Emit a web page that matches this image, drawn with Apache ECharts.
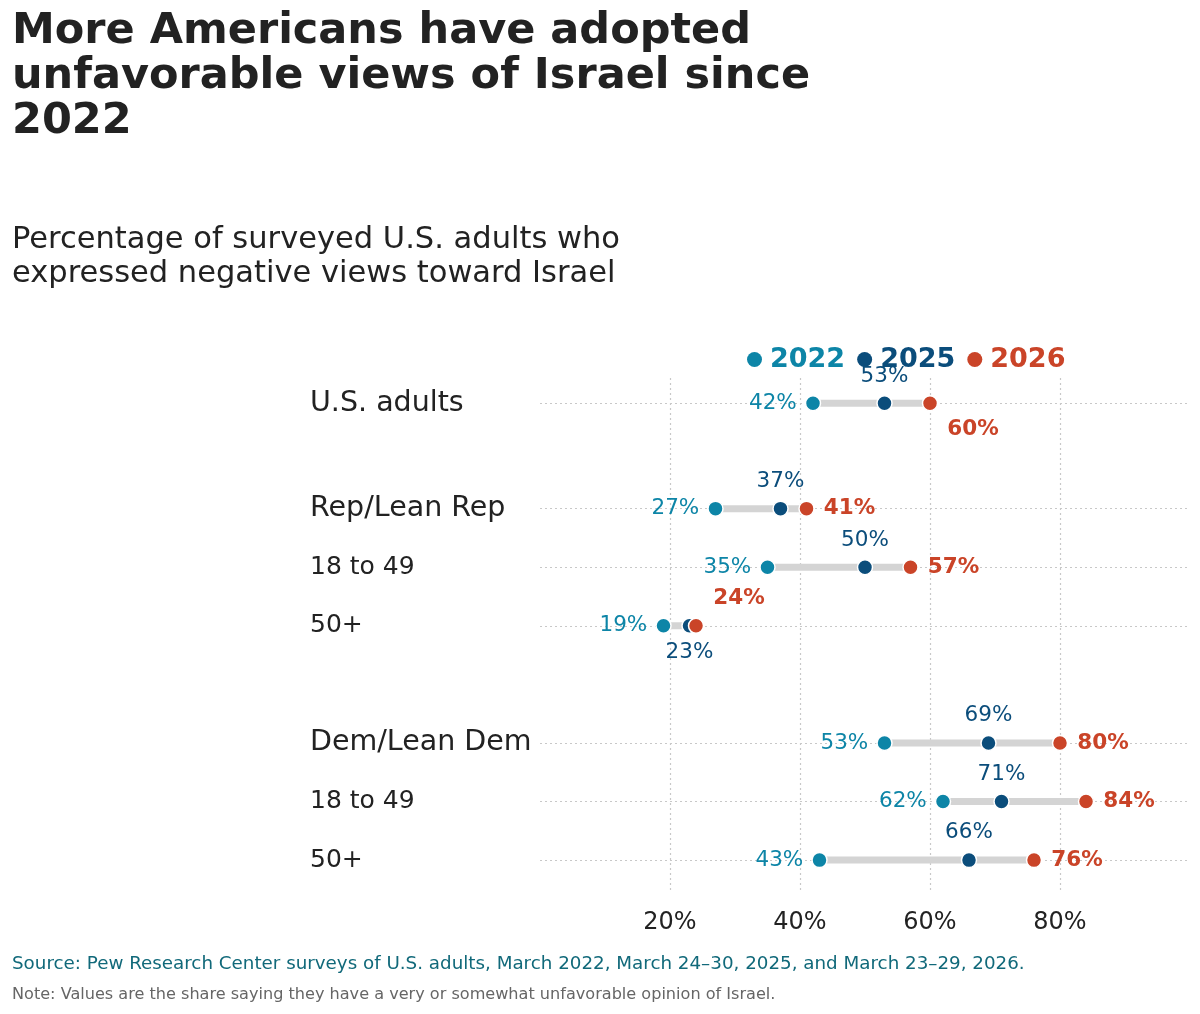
<!DOCTYPE html>
<html>
<head>
<meta charset="utf-8">
<script src="https://cdn.jsdelivr.net/npm/echarts@6/dist/echarts.min.js"></script>
<style>
  html, body { margin: 0; padding: 0; background: #fff; }
  #container { width: 1200px; height: 1014px; }
</style>
</head>
<body>
<div id="container"></div>
<script>
// data
var rowLabels = ['U.S. adults', 'Rep/Lean Rep', '18 to 49', '50+', 'Dem/Lean Dem', '18 to 49', '50+'];
var rowIsHeader = [true, true, false, false, true, false, false];
var years = ['2022', '2025', '2026'];
var v2022 = [42, 27, 35, 19, 53, 62, 43];
var v2025 = [53, 37, 50, 23, 69, 71, 66];
var v2026 = [60, 41, 57, 24, 80, 84, 76];
var xTicks = [20, 40, 60, 80];

var FONT = 'DejaVu Sans';
var C22 = '#0D85A7', C25 = '#0B4D7B', C26 = '#CA4428';

// row positions on the y axis: one unit per row, with extra space before each group header
var extraGap = [0, 0.8, 0.8, 0.8, 1.8, 1.8, 1.8];
var rowPos = rowLabels.map(function (d, i) { return i + extraGap[i]; });

function pts(vals) {
    return vals.map(function (v, i) { return [v, rowPos[i]]; });
}

var d22 = pts(v2022);
var d25 = pts(v2025);
var d26 = pts(v2026);

// special label spots for overlapping rows
d25[3] = { value: d25[3], label: { position: 'bottom', distance: 7 } };
d26[0] = { value: d26[0], label: { position: 'right', offset: [0, 26] } };
d26[3] = { value: d26[3], label: { position: 'right', offset: [0, -27] } };

var charts = echarts.init(document.getElementById('container'));
var option = {
    backgroundColor: '#fff',
    animation: false,
    textStyle: { fontFamily: FONT },
    title: [{
        text: 'More Americans have adopted\nunfavorable views of Israel since\n2022',
        left: 7, top: 4,
        textStyle: { fontFamily: FONT, fontSize: 43, fontWeight: 'bold', lineHeight: 45, color: '#222' }
    }, {
        text: 'Percentage of surveyed U.S. adults who\nexpressed negative views toward Israel',
        left: 7, top: 218,
        textStyle: { fontFamily: FONT, fontSize: 30.5, fontWeight: 'normal', lineHeight: 34, color: '#222' }
    }, {
        text: 'Source: Pew Research Center surveys of U.S. adults, March 2022, March 24\u201330, 2025, and March 23\u201329, 2026.',
        left: 7, top: 950,
        textStyle: { fontFamily: FONT, fontSize: 18.3, fontWeight: 'normal', color: '#11697A' }
    }, {
        text: 'Note: Values are the share saying they have a very or somewhat unfavorable opinion of Israel.',
        left: 7, top: 982,
        textStyle: { fontFamily: FONT, fontSize: 16.1, fontWeight: 'normal', color: '#666' }
    }],
    legend: {
        left: 742, top: 341,
        icon: 'circle',
        itemWidth: 15, itemHeight: 15, itemGap: 12,
        selectedMode: false,
        itemStyle: { opacity: 1, borderWidth: 0 },
        textStyle: { fontFamily: FONT, fontSize: 27, fontWeight: 'bold', padding: [0, 0, 0, 3] },
        data: [
            { name: '2022', textStyle: { color: C22 } },
            { name: '2025', textStyle: { color: C25 } },
            { name: '2026', textStyle: { color: C26 } }
        ]
    },
    grid: { left: 540, right: 10, top: 378, bottom: 124, containLabel: false },
    xAxis: {
        type: 'value', min: 0, max: 100, interval: 20,
        axisLine: { show: false }, axisTick: { show: false }, splitLine: { show: false },
        axisLabel: {
            fontFamily: FONT, fontSize: 24, color: '#222', margin: 21,
            customValues: xTicks,
            formatter: function (v) { return v + '%'; }
        }
    },
    yAxis: {
        type: 'value', inverse: true,
        min: -0.43, max: rowPos[rowPos.length - 1] + 0.51,
        axisLine: { show: false }, axisTick: { show: false }, splitLine: { show: false },
        axisLabel: {
            customValues: rowPos,
            align: 'left', margin: 230,
            formatter: function (v) {
                var i = rowPos.indexOf(v);
                if (i < 0) return '';
                return rowIsHeader[i] ? '{h|' + rowLabels[i] + '}' : '{s|' + rowLabels[i] + '}';
            },
            rich: {
                h: { fontFamily: FONT, fontSize: 28.5, color: '#222' },
                s: { fontFamily: FONT, fontSize: 25, color: '#222' }
            }
        }
    },
    series: [{
        name: 'guides',
        type: 'line',
        data: [],
        silent: true,
        z: 0,
        markLine: {
            silent: true, symbol: 'none', label: { show: false }, z: 0,
            lineStyle: { type: [2, 3], color: '#c8c8c8', width: 1.2 },
            data: rowPos.map(function (p) { return { yAxis: p }; })
                .concat(xTicks.map(function (t) { return { xAxis: t }; }))
        }
    }, {
        name: 'range',
        type: 'custom',
        silent: true,
        data: rowPos.map(function (p, i) {
            return [Math.min(v2022[i], v2025[i], v2026[i]), Math.max(v2022[i], v2025[i], v2026[i]), p];
        }),
        encode: { x: [0, 1], y: 2 },
        renderItem: function (params, api) {
            var a = api.coord([api.value(0), api.value(2)]);
            var b = api.coord([api.value(1), api.value(2)]);
            return {
                type: 'line',
                shape: { x1: a[0], y1: a[1], x2: b[0], y2: b[1] },
                style: { stroke: '#d4d4d4', lineWidth: 7 }
            };
        },
        z: 2
    }, {
        name: '2022',
        type: 'scatter',
        symbolSize: 15,
        itemStyle: { color: C22, opacity: 1, borderColor: '#fff', borderWidth: 1.5 },
        label: {
            show: true, position: 'left', distance: 8,
            fontFamily: FONT, fontSize: 21.5, color: C22,
            formatter: function (p) { return p.value[0] + '%'; }
        },
        data: d22, z: 3
    }, {
        name: '2025',
        type: 'scatter',
        symbolSize: 15,
        itemStyle: { color: C25, opacity: 1, borderColor: '#fff', borderWidth: 1.5 },
        label: {
            show: true, position: 'top', distance: 8,
            fontFamily: FONT, fontSize: 21.5, color: C25,
            formatter: function (p) { return p.value[0] + '%'; }
        },
        data: d25, z: 4
    }, {
        name: '2026',
        type: 'scatter',
        symbolSize: 15,
        itemStyle: { color: C26, opacity: 1, borderColor: '#fff', borderWidth: 1.5 },
        label: {
            show: true, position: 'right', distance: 9,
            fontFamily: FONT, fontSize: 21.5, fontWeight: 'bold', color: C26,
            formatter: function (p) { return p.value[0] + '%'; }
        },
        data: d26, z: 5
    }]
};
charts.setOption(option);
</script>
</body>
</html>
